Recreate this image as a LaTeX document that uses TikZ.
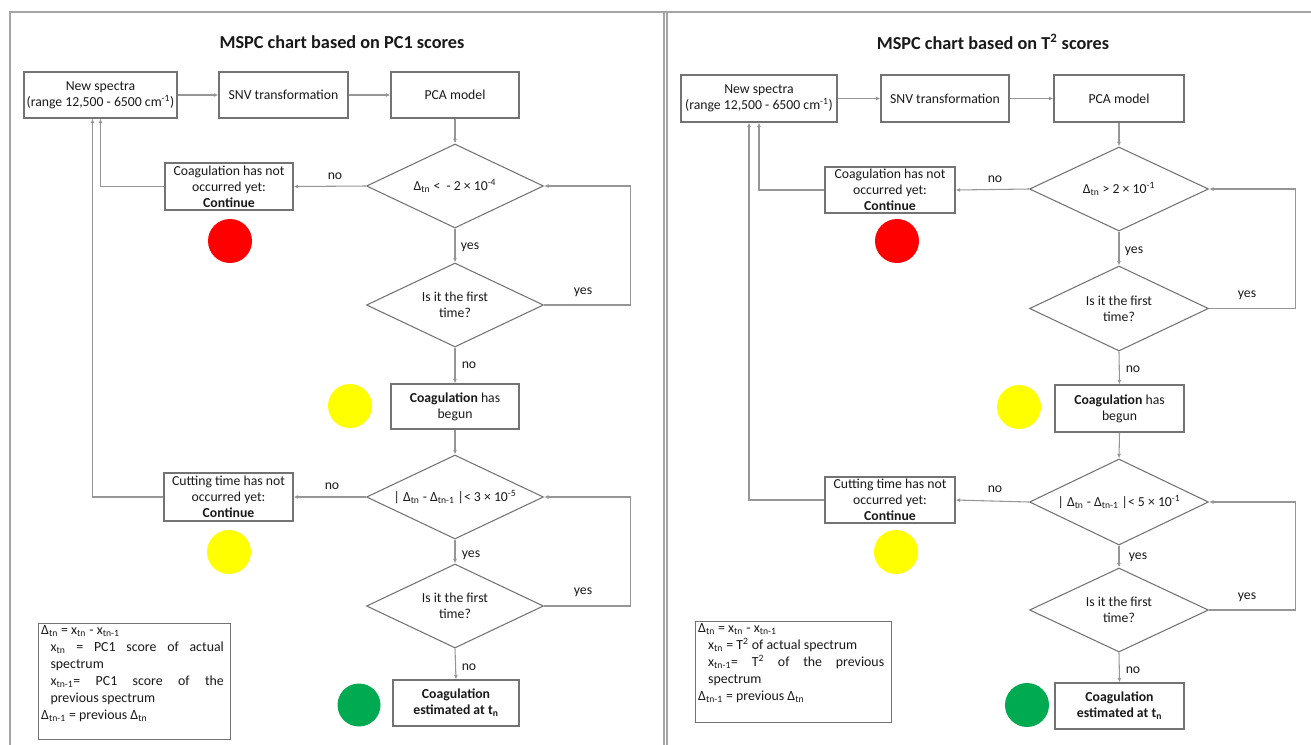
\documentclass[tikz,border=0pt]{standalone}
\usepackage{fontspec}
\setmainfont{Carlito}
\usetikzlibrary{arrows.meta,shapes.geometric,calc}
\definecolor{linec}{RGB}{150,150,150}
\definecolor{boxc}{RGB}{115,115,115}
\definecolor{framec}{RGB}{165,165,165}
\definecolor{redc}{RGB}{255,0,0}
\definecolor{yelc}{RGB}{255,255,0}
\definecolor{grnc}{RGB}{0,170,80}
\definecolor{txtc}{RGB}{25,25,25}
\newcommand{\bt}{\fontsize{10.3}{12}\selectfont}
\newcommand{\lgf}{\fontsize{10.4}{12.75}\selectfont}
\newcommand{\sbt}[1]{\textsubscript{#1}}
\newcommand{\spt}[1]{\textsuperscript{#1}}
\begin{document}
\begin{tikzpicture}[x=0.75pt,y=-0.75pt,
  box/.style 2 args={draw=boxc, line width=0.8pt, minimum width=#1*0.75pt, minimum height=#2*0.75pt, inner xsep=1pt, inner ysep=0pt, align=center, font=\bt, text=txtc},
  dia/.style 2 args={diamond, draw=boxc, line width=0.8pt, minimum width=#1*0.75pt, minimum height=#2*0.75pt, inner sep=0pt, aspect=2, align=center, font=\bt, text=txtc},
  dot/.style 2 args={circle, fill=#1, draw=none, minimum size=#2*0.75pt, inner sep=0pt},
  arr/.style={draw=linec, line width=0.8pt, -{Latex[length=3.5pt,width=3pt]}},
  lbl/.style={font=\bt, inner sep=0pt, text=txtc},
  ttl/.style={font=\fontsize{13.7}{16}\selectfont\bfseries, text=txtc, inner sep=0pt},
  legbox/.style={draw=boxc, line width=0.8pt, inner xsep=2pt, inner ysep=1.5pt, font=\lgf, text=txtc},
  frm/.style={draw=framec, line width=0.8pt}]
\clip (0,0) rectangle (1311,744);
% panel frames
\draw[frm] (10,760) -- (10,12) -- (1320,12);
\draw[frm] (664,12) -- (664,760);
\draw[frm] (667,12) -- (667,760);

% ================= LEFT PANEL =================
\node[ttl] (LT) at (342,42) {MSPC chart based on PC1 scores};
\node[box={153}{46}] (LNS) at (100.5,95) {New spectra\\(range 12,500 - 6500 cm\spt{-1})};
\node[box={129}{46}] (LSNV) at (283.5,95) {SNV transformation};
\node[box={128}{46}] (LPCA) at (455,95) {PCA model};
\node[dia={177}{84}] (LD1) at (455,186) {Δ\sbt{tn} <\ \ - 2 × 10\spt{-4}};
\node[box={128}{47}] (LB1) at (229,186.5) {Coagulation has not\\occurred yet:\\\textbf{Continue}};
\node[dot={redc}{44}] (LR) at (230,241) {};
\node[dia={177}{84}] (LD2) at (455,305) {Is it the first\\time?};
\node[box={128}{45}] (LBeg) at (455,406.5) {\textbf{Coagulation} has\\begun};
\node[dot={yelc}{44}] (LY1) at (350,406) {};
\node[dia={177}{84}] (LD3) at (455,497) {| Δ\sbt{tn} - Δ\sbt{tn-1} |< 3 × 10\spt{-5}};
\node[box={129}{48}] (LB2) at (228.5,497) {Cutting time has not\\occurred yet:\\\textbf{Continue}};
\node[dot={yelc}{44}] (LY2) at (229,552) {};
\node[dia={177}{84}] (LD4) at (455,606) {Is it the first\\time?};
\node[box={126}{46}] (LFin) at (456,703) {\textbf{Coagulation}\\\textbf{estimated at t\sbt{n}}};
\node[dot={grnc}{43}] (LG) at (359,705) {};
\node[legbox, anchor=north west] (LLeg) at (38,623) {\begin{minipage}[c][84pt][t]{140pt}\lgf\noindent
Δ\sbt{tn} = x\sbt{tn} - x\sbt{tn-1}\\
\hspace*{7pt}\makebox[130pt][s]{x\sbt{tn} = PC1 score of actual}\\
\hspace*{7pt}spectrum\\
\hspace*{7pt}\makebox[130pt][s]{x\sbt{tn-1}= PC1 score of the}\\
\hspace*{7pt}previous spectrum\\
Δ\sbt{tn-1} = previous Δ\sbt{tn}
\end{minipage}};

\coordinate (LNb) at ([xshift=-6pt]LNS.south);
\draw[arr] (LNS) -- (LSNV);
\draw[arr] (LSNV) -- (LPCA);
\draw[arr] (LPCA) -- (LD1);
\draw[arr] (LD1.west) -- (LB1.east);
\draw[arr] (LB1.west) -| (LNS.south);
\draw[arr] (LD1.south) -- (LD2.north);
\draw[arr] (LD2.east) -- ++(86.5,0) |- (LD1.east);
\draw[arr] (LD2.south) -- (LBeg.north);
\draw[arr] (LBeg.south) -- (LD3.north);
\draw[arr] (LD3.west) -- (LB2.east);
\draw[arr] (LB2.west) -| (LNb);
\draw[arr] (LD3.south) -- (LD4.north);
\draw[arr] (LD4.east) -- ++(86.5,0) |- (LD3.east);
\draw[arr] (LD4.south) -- (LFin.north);

\node[lbl] (Lno1) at (335,176) {no};
\node[lbl] (Lyes1) at (470,247) {yes};
\node[lbl] (Lyes2) at (583,292) {yes};
\node[lbl] (Lno2) at (469,365) {no};
\node[lbl] (Lno3) at (332,486) {no};
\node[lbl] (Lyes3) at (471,555) {yes};
\node[lbl] (Lyes4) at (583,592) {yes};
\node[lbl] (Lno4) at (469,667) {no};

% ================= RIGHT PANEL =================
\node[ttl] (RT) at (993,42) {MSPC chart based on T\spt{2} scores};
\node[box={156}{47}] (RNS) at (759,98.5) {New spectra\\(range 12,500 - 6500 cm\spt{-1})};
\node[box={128}{47}] (RSNV) at (945,98.5) {SNV transformation};
\node[box={130}{47}] (RPCA) at (1119,98.5) {PCA model};
\node[dia={179}{84}] (RD1) at (1119,189) {Δ\sbt{tn} > 2 × 10\spt{-1}};
\node[box={130}{46}] (RB1) at (890,190) {Coagulation has not\\occurred yet:\\\textbf{Continue}};
\node[dot={redc}{44}] (RR) at (897,241) {};
\node[dia={179}{85}] (RD2) at (1119,308.5) {Is it the first\\time?};
\node[box={129}{47}] (RBeg) at (1119.5,408.5) {\textbf{Coagulation} has\\begun};
\node[dot={yelc}{44}] (RY1) at (1019,407) {};
\node[dia={179}{86}] (RD3) at (1119,502) {| Δ\sbt{tn} - Δ\sbt{tn-1} |< 5 × 10\spt{-1}};
\node[box={130}{46}] (RB2) at (890,500) {Cutting time has not\\occurred yet:\\\textbf{Continue}};
\node[dot={yelc}{44}] (RY2) at (896,552) {};
\node[dia={179}{84}] (RD4) at (1119,610) {Is it the first\\time?};
\node[box={129}{46}] (RFin) at (1119.5,706) {\textbf{Coagulation}\\\textbf{estimated at t\sbt{n}}};
\node[dot={grnc}{44}] (RG) at (1027,705) {};
\node[legbox, anchor=north west] (RLeg) at (695,621) {\begin{minipage}[c][72.5pt][t]{143pt}\lgf\noindent
Δ\sbt{tn} = x\sbt{tn} - x\sbt{tn-1}\\
\hspace*{7.5pt}x\sbt{tn} = T\spt{2} of actual spectrum\\
\hspace*{7.5pt}\makebox[132pt][s]{x\sbt{tn-1}= T\spt{2} of the previous}\\
\hspace*{7.5pt}spectrum\\
Δ\sbt{tn-1} = previous Δ\sbt{tn}
\end{minipage}};

\coordinate (RNb) at ([xshift=-7.5pt]RNS.south);
\draw[arr] (RNS) -- (RSNV);
\draw[arr] (RSNV) -- (RPCA);
\draw[arr] (RPCA) -- (RD1);
\draw[arr] (RD1.west) -- (RB1.east);
\draw[arr] (RB1.west) -| (RNS.south);
\draw[arr] (RD1.south) -- (RD2.north);
\draw[arr] (RD2.east) -- ++(86.5,0) |- (RD1.east);
\draw[arr] (RD2.south) -- (RBeg.north);
\draw[arr] (RBeg.south) -- (RD3.north);
\draw[arr] (RD3.west) -- (RB2.east);
\draw[arr] (RB2.west) -| (RNb);
\draw[arr] (RD3.south) -- (RD4.north);
\draw[arr] (RD4.east) -- ++(86.5,0) |- (RD3.east);
\draw[arr] (RD4.south) -- (RFin.north);

\node[lbl] (Rno1) at (995,179) {no};
\node[lbl] (Ryes1) at (1134,251) {yes};
\node[lbl] (Ryes2) at (1247,295) {yes};
\node[lbl] (Rno2) at (1133,369) {no};
\node[lbl] (Rno3) at (995,489) {no};
\node[lbl] (Ryes3) at (1138,557) {yes};
\node[lbl] (Ryes4) at (1247,597) {yes};
\node[lbl] (Rno4) at (1133,670) {no};
\end{tikzpicture}
\end{document}
